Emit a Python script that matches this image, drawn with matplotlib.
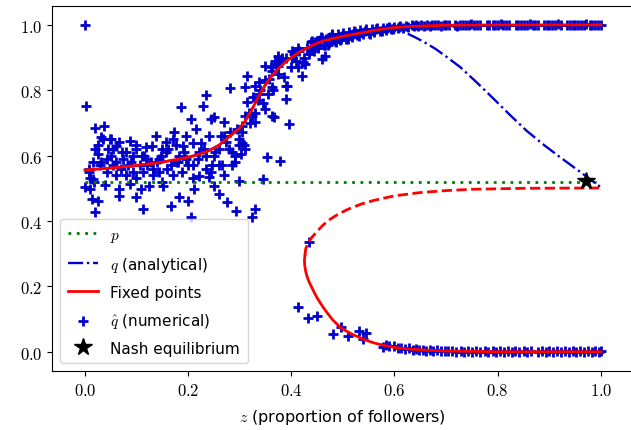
#!/usr/bin/env python3
"""Fixed points of q vs proportion of followers z, with numerical q-hat."""
import matplotlib
matplotlib.use("Agg")
import matplotlib.pyplot as plt
from matplotlib.ticker import FuncFormatter

plt.rcParams["mathtext.fontset"] = "cm"
plt.rcParams["font.family"] = ["DejaVu Sans"]

# ---- data ----
p_level = 0.52

# upper (stable) branch of fixed points
z_fp = [0.0, 0.05, 0.10, 0.15, 0.20, 0.22, 0.24, 0.26, 0.28, 0.29, 0.30,
        0.31, 0.32, 0.33, 0.34, 0.35, 0.36, 0.37, 0.38, 0.39, 0.40, 0.41,
        0.42, 0.44, 0.46, 0.48, 0.50, 0.52, 0.54, 0.56, 0.58, 0.60, 0.63,
        0.66, 0.70, 0.80, 0.90, 1.0]
q_fp = [0.556, 0.562, 0.570, 0.580, 0.595, 0.603, 0.615, 0.632, 0.658,
        0.671, 0.685, 0.704, 0.731, 0.760, 0.790, 0.817, 0.840, 0.858,
        0.874, 0.888, 0.900, 0.911, 0.920, 0.937, 0.950, 0.958, 0.965,
        0.971, 0.977, 0.983, 0.988, 0.992, 0.995, 0.997, 0.999, 1.0, 1.0,
        1.0]

# lower stable branch
z_fp_low = [0.4265, 0.4255, 0.426, 0.428, 0.431, 0.435, 0.44, 0.445, 0.45,
            0.46, 0.47, 0.48, 0.49, 0.50, 0.52, 0.54, 0.56, 0.58, 0.60, 0.63,
            0.66, 0.70, 0.75, 0.80, 0.90, 1.0]
q_fp_low = [0.295, 0.28, 0.265, 0.245, 0.228, 0.212, 0.196, 0.180, 0.165,
            0.140, 0.118, 0.098, 0.082, 0.069, 0.052, 0.038, 0.027, 0.019,
            0.013, 0.008, 0.005, 0.002, 0.001, 0.0, 0.0, 0.0]

# unstable branch (dashed)
z_fp_unst = [0.4265, 0.428, 0.432, 0.44, 0.45, 0.46, 0.472, 0.49, 0.51,
             0.536, 0.56, 0.60, 0.65, 0.70, 0.75, 0.85, 1.0]
q_fp_unst = [0.295, 0.315, 0.332, 0.350, 0.368, 0.385, 0.402, 0.420, 0.436,
             0.452, 0.463, 0.477, 0.487, 0.493, 0.497, 0.500, 0.501]

# analytical q
z_q = [0.0, 0.05, 0.10, 0.15, 0.20, 0.22, 0.24, 0.26, 0.28, 0.29, 0.30,
       0.31, 0.32, 0.33, 0.34, 0.35, 0.36, 0.37, 0.38, 0.39, 0.40, 0.41,
       0.42, 0.44, 0.46, 0.48, 0.50, 0.52, 0.54, 0.56, 0.58, 0.59, 0.60,
       0.61, 0.619, 0.64, 0.658, 0.68, 0.702, 0.728, 0.76, 0.792, 0.824,
       0.856, 0.89, 0.921, 0.96, 1.0]
q_q = [0.556, 0.562, 0.570, 0.580, 0.595, 0.603, 0.615, 0.632, 0.658,
       0.671, 0.685, 0.704, 0.731, 0.760, 0.790, 0.817, 0.840, 0.858,
       0.874, 0.888, 0.900, 0.911, 0.920, 0.937, 0.950, 0.958, 0.965,
       0.971, 0.977, 0.983, 0.987, 0.989, 0.988, 0.984, 0.978, 0.962,
       0.947, 0.926, 0.901, 0.870, 0.823, 0.774, 0.724, 0.676, 0.632,
       0.595, 0.550, 0.503]

# numerical q-hat, noisy region (z < 0.5)
z_num = [0.0, 0.003, 0.019, 0.037, 0.032, 0.026, 0.051, 0.067, 0.087, 0.099,
         0.119, 0.138, 0.157, 0.173, 0.177, 0.186, 0.196, 0.205, 0.215, 0.228,
         0.234, 0.244, 0.250, 0.269, 0.282, 0.282, 0.298, 0.311, 0.314, 0.308,
         0.302, 0.314, 0.330, 0.337, 0.353, 0.379, 0.395, 0.389, 0.389, 0.350,
         0.362, 0.375, 0.375, 0.350, 0.356, 0.407, 0.420, 0.427, 0.446, 0.465,
         0.478, 0.452,
         0.0, 0.010, 0.016, 0.013, 0.026, 0.019, 0.010, 0.042, 0.067, 0.067,
         0.087, 0.099, 0.112, 0.125, 0.108, 0.151, 0.167, 0.183, 0.199, 0.205,
         0.212, 0.221, 0.241, 0.250, 0.260, 0.276, 0.292, 0.298, 0.324, 0.330,
         0.346,
         0.026, 0.032, 0.042, 0.051, 0.061, 0.074, 0.083, 0.093, 0.106, 0.119,
         0.132, 0.144, 0.157, 0.167, 0.183, 0.196, 0.209, 0.221, 0.234, 0.247,
         0.260, 0.273, 0.285, 0.298, 0.305, 0.061, 0.080, 0.093, 0.112, 0.132,
         0.144, 0.170, 0.189, 0.234, 0.266, 0.285, 0.305, 0.324, 0.330, 0.337,
         0.362, 0.401, 0.414, 0.440, 0.459, 0.472, 0.485, 0.414, 0.362, 0.369,
         0.382, 0.318, 0.311, 0.391, 0.366, 0.423, 0.401, 0.439, 0.459, 0.497,
         0.523, 0.035, 0.048, 0.009, 0.055, 0.072, 0.115, 0.128, 0.148, 0.162,
         0.178, 0.192, 0.226, 0.253, 0.263, 0.290,
         0.008, 0.015, 0.020, 0.030, 0.045, 0.055, 0.060, 0.070, 0.080, 0.090,
         0.100, 0.110, 0.120, 0.130, 0.140, 0.150, 0.160, 0.170, 0.180, 0.190,
         0.200, 0.210, 0.220, 0.230, 0.240, 0.250, 0.260, 0.270, 0.280, 0.290,
         0.295, 0.305, 0.310, 0.018, 0.040, 0.100, 0.150, 0.210, 0.245, 0.270,
         0.320, 0.325, 0.330, 0.335, 0.340, 0.345, 0.350, 0.355, 0.360, 0.365,
         0.370, 0.375, 0.380, 0.385, 0.390, 0.400, 0.405, 0.410, 0.415, 0.425,
         0.430, 0.435, 0.440, 0.445, 0.450]
q_num = [1.0, 0.751, 0.684, 0.690, 0.656, 0.631, 0.651, 0.641, 0.646, 0.631,
         0.626, 0.661, 0.641, 0.672, 0.631, 0.748, 0.661, 0.712, 0.682, 0.753,
         0.786, 0.712, 0.717, 0.702, 0.806, 0.672, 0.651, 0.809, 0.845, 0.631,
         0.605, 0.763, 0.814, 0.825, 0.595, 0.585, 0.697, 0.773, 0.814, 0.743,
         0.722, 0.906, 0.875, 0.875, 0.835, 0.916, 0.845, 0.881, 0.947, 0.906,
         0.972, 0.940,
         0.503, 0.498, 0.529, 0.467, 0.462, 0.427, 0.532, 0.549, 0.498, 0.477,
         0.513, 0.473, 0.437, 0.508, 0.498, 0.508, 0.447, 0.473, 0.462, 0.411,
         0.498, 0.539, 0.534, 0.508, 0.483, 0.457, 0.432, 0.523, 0.411, 0.437,
         0.529,
         0.605, 0.580, 0.590, 0.600, 0.580, 0.590, 0.570, 0.600, 0.570, 0.590,
         0.560, 0.590, 0.610, 0.570, 0.600, 0.590, 0.570, 0.610, 0.600, 0.570,
         0.620, 0.641, 0.610, 0.631, 0.672, 0.540, 0.540, 0.550, 0.550, 0.540,
         0.550, 0.540, 0.550, 0.560, 0.570, 0.570, 0.692, 0.722, 0.702, 0.790,
         0.810, 0.900, 0.930, 0.930, 0.960, 0.940, 0.960, 0.870, 0.860, 0.890,
         0.900, 0.730, 0.720, 0.814, 0.717, 0.886, 0.921, 0.947, 0.896, 0.957,
         0.978, 0.651, 0.650, 0.560, 0.620, 0.610, 0.600, 0.580, 0.600, 0.620,
         0.580, 0.610, 0.640, 0.610, 0.660, 0.600,
         0.550, 0.580, 0.620, 0.570, 0.620, 0.570, 0.630, 0.560, 0.610, 0.580,
         0.620, 0.600, 0.570, 0.630, 0.580, 0.620, 0.560, 0.650, 0.580, 0.630,
         0.570, 0.640, 0.590, 0.620, 0.660, 0.600, 0.570, 0.660, 0.620, 0.580,
         0.680, 0.640, 0.620, 0.520, 0.510, 0.530, 0.520, 0.530, 0.550, 0.540,
         0.700, 0.780, 0.730, 0.770, 0.800, 0.760, 0.830, 0.790, 0.870, 0.800,
         0.880, 0.850, 0.890, 0.840, 0.900, 0.870, 0.910, 0.890, 0.920, 0.900,
         0.930, 0.910, 0.950, 0.920, 0.950]

# numerical q-hat on the upper band (z >= 0.45)
z_num_hi = [0.452, 0.458, 0.463, 0.468, 0.474, 0.479, 0.484, 0.490, 0.495,
            0.500, 0.506, 0.511, 0.517, 0.522, 0.528, 0.533, 0.539, 0.544,
            0.550, 0.556, 0.561, 0.567, 0.572, 0.578, 0.583, 0.589, 0.594,
            0.600, 0.606, 0.611, 0.617, 0.455, 0.466, 0.476, 0.487, 0.498,
            0.509, 0.520, 0.531, 0.542, 0.553, 0.564, 0.575, 0.586, 0.597,
            0.608, 0.622, 0.627, 0.633, 0.638, 0.641, 0.646, 0.652, 0.657,
            0.663, 0.668, 0.672, 0.679, 0.684, 0.690, 0.695, 0.700, 0.706,
            0.718, 0.722, 0.727, 0.733, 0.738, 0.744, 0.749, 0.755, 0.760,
            0.765, 0.779, 0.784, 0.790, 0.795, 0.800, 0.806, 0.811, 0.817,
            0.822, 0.835, 0.840, 0.846, 0.851, 0.857, 0.862, 0.868, 0.873,
            0.879, 0.890, 0.895, 0.900, 0.906, 0.911, 0.917, 0.922, 0.935,
            0.940, 0.945, 0.950, 0.956, 0.961, 0.967, 0.972, 0.978, 0.983,
            0.989, 0.994, 1.000]
q_num_hi = [0.930, 0.962, 0.940, 0.958, 0.945, 0.968, 0.950, 0.972, 0.955,
            0.975, 0.958, 0.978, 0.964, 0.982, 0.968, 0.984, 0.972, 0.986,
            0.975, 0.988, 0.978, 0.990, 0.982, 0.991, 0.985, 0.993, 0.988,
            0.995, 0.990, 0.996, 0.992, 0.955, 0.937, 0.962, 0.948, 0.966,
            0.958, 0.972, 0.966, 0.980, 0.972, 0.986, 0.980, 0.990, 0.986,
            0.993, 0.997, 0.994, 0.999, 0.996, 1.000, 0.997, 1.001, 0.998,
            1.000, 0.997, 1.001, 0.999, 1.000, 0.998, 1.001, 0.999, 1.000,
            1.001, 0.998, 1.000, 1.001, 0.999, 1.000, 1.002, 0.999, 1.000,
            1.001, 0.999, 1.000, 1.001, 0.999, 1.000, 1.002, 0.999, 1.000,
            1.001, 0.999, 1.000, 1.001, 0.999, 1.000, 1.002, 0.999, 1.000,
            1.001, 0.999, 1.000, 1.001, 0.999, 1.000, 1.002, 0.999, 1.000,
            1.001, 0.999, 1.000, 1.001, 0.999, 1.000, 1.002, 0.999, 1.000,
            1.001, 0.999, 1.000]

# numerical q-hat on the lower band
z_num_lo = [0.434, 0.414, 0.432, 0.450, 0.481, 0.497, 0.510, 0.532, 0.539,
            0.545, 0.577, 0.583, 0.590, 0.600, 0.606, 0.612, 0.620, 0.628,
            0.636, 0.641, 0.648, 0.655, 0.662, 0.668, 0.675, 0.683, 0.690,
            0.697, 0.704, 0.712, 0.720, 0.728, 0.734, 0.742, 0.750, 0.758,
            0.765, 0.776, 0.782, 0.790, 0.797, 0.804, 0.812, 0.820, 0.827,
            0.834, 0.842, 0.850, 0.857, 0.865, 0.878, 0.886, 0.893, 0.900,
            0.908, 0.915, 0.923, 0.930, 0.938, 0.945, 0.952, 0.960, 0.967,
            0.974, 0.982, 0.989, 0.996, 1.000]
q_num_lo = [0.335, 0.136, 0.102, 0.110, 0.054, 0.075, 0.049, 0.064, 0.039,
            0.058, 0.013, 0.020, 0.016, 0.018, 0.010, 0.012, 0.008, 0.010,
            0.006, 0.008, 0.004, 0.006, 0.003, 0.005, 0.002, 0.004, 0.001,
            0.003, 0.001, 0.002, 0.000, 0.002, 0.000, 0.001, 0.000, 0.001,
            0.000, 0.001, 0.000, 0.001, 0.000, 0.001, 0.000, 0.001, 0.000,
            0.001, 0.000, 0.001, 0.000, 0.001, 0.000, 0.001, 0.000, 0.001,
            0.000, 0.001, 0.000, 0.001, 0.000, 0.001, 0.000, 0.001, 0.000,
            0.001, 0.000, 0.001, 0.000, 0.001]

z_nash, q_nash = 0.971, 0.523

# ---- plot ----
blue = "#0000cc"
fig = plt.figure(figsize=(6.31, 4.31), dpi=100)
ax = fig.add_axes([0.0829, 0.1369, 0.921, 0.847])

ax.plot([0.0, 1.0], [p_level, p_level], color="green", ls=(0, (1, 2)), lw=2,
        label="$p$")
ax.plot(z_q, q_q, color=blue, ls="-.", lw=1.7, label="$q$ (analytical)")
ax.plot(z_fp, q_fp, color="red", lw=2, label="Fixed points")
ax.plot(z_fp_low, q_fp_low, color="red", lw=2)
ax.plot(z_fp_unst, q_fp_unst, color="red", lw=2, ls="--")
ax.scatter(z_num + z_num_hi + z_num_lo, q_num + q_num_hi + q_num_lo,
           marker="+", s=55, linewidths=2, color=blue, zorder=1,
           label=r"$\hat{q}$ (numerical)")
ax.plot([z_nash], [q_nash], marker="*", ms=13, color="black", ls="none",
        label="Nash equilibrium", zorder=5)

ax.set_xlim(-0.063, 1.063)
ax.set_ylim(-0.059, 1.058)
ax.set_xticks([0.0, 0.2, 0.4, 0.6, 0.8, 1.0])
ax.set_yticks([0.0, 0.2, 0.4, 0.6, 0.8, 1.0])
fmt = FuncFormatter(lambda v, _: f"${v:.1f}$")
ax.xaxis.set_major_formatter(fmt)
ax.yaxis.set_major_formatter(fmt)
ax.tick_params(labelsize=12)
ax.set_xlabel("$z$ (proportion of followers)", fontsize=11.5, labelpad=6)

ax.legend(loc="lower left", fontsize=11, labelspacing=0.72,
          handlelength=2.0, borderpad=0.5, framealpha=0.8)

fig.savefig("out.png", dpi=100)
